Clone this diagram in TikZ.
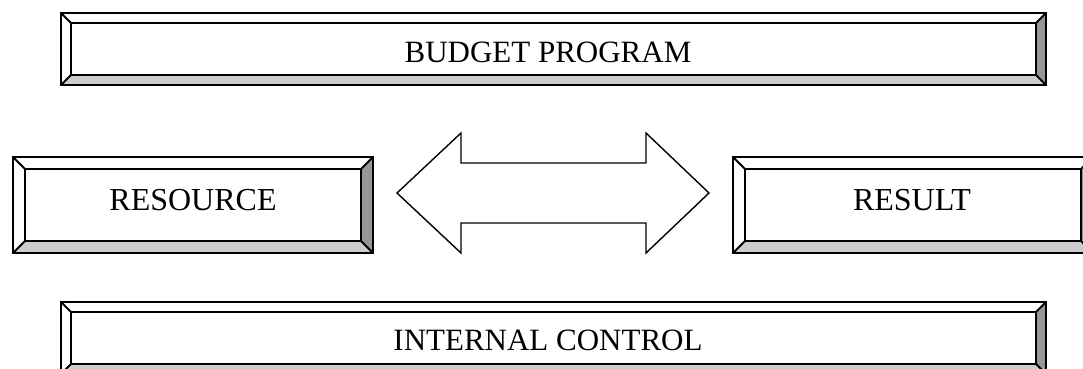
\documentclass[tikz,border=0pt]{standalone}
\usepackage{fontspec}
\setmainfont{Liberation Serif}
\definecolor{bevlight}{HTML}{CCCCCC}
\definecolor{bevdark}{HTML}{969696}
\tikzset{
  bevline/.style={line width=1.8pt, line join=miter},
  boxlabel/.style={anchor=base, inner sep=0pt, font=\fontsize{31}{36}\selectfont},
  midlabel/.style={boxlabel, font=\fontsize{32}{38}\selectfont},
  arrowshape/.style={draw, line width=1.4pt, fill=white, line join=miter}
}
% #1 name, #2 x1, #3 y1, #4 x2, #5 y2, #6 bevel
\newcommand{\bevbox}[6]{%
  \fill[white] (#2,#3) rectangle (#4,#5);
  \fill[bevlight] (#2,#5) -- (#4,#5) -- ({#4-#6},{#5-#6}) -- ({#2+#6},{#5-#6}) -- cycle;
  \fill[bevdark] (#4,#3) -- (#4,#5) -- ({#4-#6},{#5-#6}) -- ({#4-#6},{#3+#6}) -- cycle;
  \draw[bevline] (#2,#3) rectangle (#4,#5);
  \draw[bevline] ({#2+#6},{#3+#6}) rectangle ({#4-#6},{#5-#6});
  \draw[bevline] (#2,#3) -- ({#2+#6},{#3+#6})
                 (#4,#3) -- ({#4-#6},{#3+#6})
                 (#2,#5) -- ({#2+#6},{#5-#6})
                 (#4,#5) -- ({#4-#6},{#5-#6});
  \coordinate (#1) at ({(#2+#4)/2},{(#3+#5)/2});
}
\begin{document}
\begin{tikzpicture}[x=1pt,y=-1pt]
\useasboundingbox (0,0) rectangle (1083,369);
\clip (0,0) rectangle (1083,369);
\fill[white] (0,0) rectangle (1083,369);
% boxes
\bevbox{budget}{61}{13}{1046}{85}{10}
\bevbox{resource}{13}{157}{373}{253}{12}
\bevbox{result}{733}{157}{1093}{253}{12}
\bevbox{internal}{61}{302}{1046}{374}{10}
% labels
\node[boxlabel] (tbudget) at (548,63) {BUDGET PROGRAM};
\node[midlabel] (tresource) at (193,210) {RESOURCE};
\node[midlabel] (tresult) at (912,210) {RESULT};
\node[boxlabel] (tinternal) at (548,350) {INTERNAL CONTROL};
% double block arrow
\draw[arrowshape] (397,193) -- (461,133) -- (461,163) -- (646,163) -- (646,133)
  -- (709,193) -- (646,253) -- (646,223) -- (461,223) -- (461,253) -- cycle;
\end{tikzpicture}
\end{document}
